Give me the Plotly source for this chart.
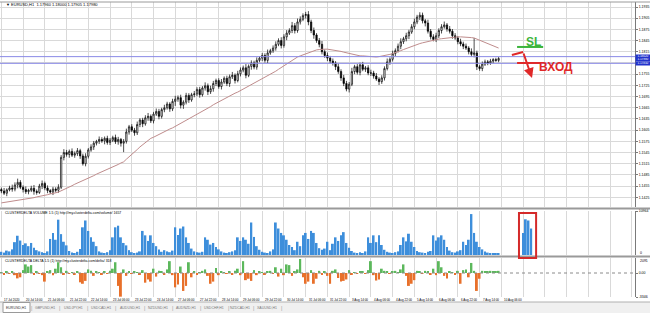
import plotly.graph_objects as go
from plotly.subplots import make_subplots

# ---------------- data (EURUSD H1 chart, read as 2-hour steps) ----------------
# prices in pips above 1.1000
close_pips = [442, 436, 445, 450, 447, 458, 465, 452, 446, 440, 444, 449, 441, 438, 455, 462, 450, 443, 439, 447, 444, 452,
              532, 545, 540, 548, 538, 542, 550, 536, 515,
              535, 552, 560, 570, 575, 580,
              576, 583, 572, 578, 585, 574, 580, 570, 575,
              600, 614, 605, 598, 620,
              632, 622, 638, 642, 630,
              648, 655, 642, 660, 665,
              675, 662, 682, 688,
              692, 672, 680, 698, 686, 700,
              702, 714, 700, 718, 724, 708, 716, 730,
              738, 722, 734, 744, 730, 748, 752, 738, 756,
              766, 772, 752, 776, 785, 774, 792,
              798, 805, 792, 812, 818, 825,
              835, 845, 832, 855, 865, 872,
              885, 872, 895, 902, 912, 915,
              895, 872, 860, 845, 835,
              815, 805, 798, 790, 785, 775,
              762, 745, 730, 715, 728,
              762, 775, 760, 780, 768, 772, 758,
              758, 750, 742, 735, 745,
              770, 788, 795, 810, 818,
              830, 842, 850, 858, 868,
              882, 895, 908, 913, 898, 892,
              870, 855, 848, 858,
              872, 882, 887, 876, 870,
              858, 852, 842, 836, 830,
              825, 815, 808, 812,
              775, 770,
              782, 788, 785, 790, 794, 792, 797]
first_open_pips = 446
wick_up = [5, 8, 4, 6, 9, 7, 10, 6, 5, 8, 4, 7, 9, 5, 6, 8, 5, 7, 4, 6,
           5, 8, 6, 9, 7, 5, 8, 6, 7, 5, 6, 8, 5, 7, 6, 4, 8, 6, 5, 7,
           6, 5, 8, 7, 4, 6, 9, 5, 7, 6, 8, 5, 6, 7, 9, 5, 6, 8, 7, 5,
           8, 6, 5, 7, 9, 6, 8, 5, 7, 6, 5, 8, 6, 7, 5, 9, 6, 8, 7, 5,
           6, 8, 5, 7, 6, 9, 5, 8, 7, 6, 10, 5, 7, 6, 8, 5, 7, 6, 9, 5,
           7, 8, 6, 9, 7, 8, 6, 10, 7, 9, 8, 6, 7, 9, 6, 8, 5, 7, 9, 6,
           8, 6, 7, 5, 9, 6, 8, 7, 6, 10, 5, 7, 6, 8, 5, 7, 9, 6, 8, 5,
           7, 6, 9, 5, 8, 6, 7, 9, 5, 8, 6, 7, 9, 6, 8, 7, 5, 9, 6, 7,
           8, 6, 7, 9, 5, 8, 6, 7, 5, 8, 6, 7, 5, 9, 40, 6, 5, 7, 6, 5,
           6, 4, 5, 4]
wick_down = [6, 5, 8, 4, 7, 6, 9, 5, 8, 6, 7, 5, 9, 6, 4, 8, 6, 7, 5, 8,
             6, 7, 5, 8, 6, 9, 5, 7, 6, 8, 5, 7, 6, 5, 8, 6, 7, 5, 9, 6,
             7, 5, 6, 8, 9, 24, 6, 7, 5, 8, 6, 7, 9, 5, 8, 6, 7, 5, 8, 6,
             7, 5, 8, 6, 12, 7, 9, 10, 6, 8, 5, 7, 6, 8, 5, 7, 9, 6, 8, 7,
             6, 8, 5, 7, 9, 6, 8, 5, 7, 6, 8, 5, 9, 6, 7, 5, 8, 6, 7, 5,
             6, 7, 5, 8, 6, 9, 5, 7, 8, 6, 7, 5, 8, 9, 7, 10, 6, 8, 7, 6,
             8, 6, 7, 9, 6, 8, 7, 6, 9, 5, 7, 6, 8, 5, 7, 6, 8, 7, 5, 9,
             6, 7, 5, 8, 6, 7, 5, 8, 6, 7, 9, 5, 7, 6, 8, 7, 9, 6, 7, 5,
             7, 6, 8, 5, 7, 6, 8, 5, 7, 6, 8, 5, 7, 6, 8, 9, 6, 7, 5, 6,
             5, 6, 4, 5]
ma_pips = [410, 411, 412, 413, 414, 415, 416, 417, 418, 420, 421, 423,
           424, 426, 427, 429, 430, 432, 434, 435, 437, 439,
           442, 446, 449, 453, 456, 460, 463,
           466, 470, 473, 476, 480, 483, 487, 490,
           493, 497, 500, 503, 507, 510, 513, 517, 520,
           527, 533, 540, 546, 553, 560, 566, 573, 579,
           583, 586, 590, 594, 597, 601, 604, 608, 611,
           615, 619, 623, 627, 631, 635, 638, 642, 646,
           650, 655, 659, 664, 668, 673, 677, 682, 686,
           690, 693, 697, 700, 704, 707, 711, 714, 718,
           722, 726, 730, 734, 738, 741, 745, 749, 753,
           758, 763, 768, 773, 778, 783, 788, 793, 798,
           801, 804, 807, 810, 813, 815, 818, 820,
           821, 822, 822, 822, 821, 821, 820,
           818, 816, 814, 812, 810, 808, 806,
           805, 804, 804, 803, 803, 802, 802, 801,
           802, 803, 805, 806, 808, 810, 812,
           815, 818, 821, 824, 827, 830, 833,
           835, 837, 839, 841, 843, 845, 847,
           848, 849, 850, 851, 852, 853, 854, 855,
           855, 855, 855, 854, 854, 853, 852,
           849, 846, 843, 840, 837, 834, 831, 828, 825]
volume = [800, 600, 1100, 900, 1400,
          3200, 4800, 3600, 2500, 2900,
          2200, 3000, 1800, 1200, 900,
          700, 500, 900,
          4000, 5500, 3800, 8800, 5200,
          3300, 2400, 1000,
          600, 500, 800, 1500,
          6900, 8600, 6000, 4400, 3300, 2200,
          900, 600, 500, 700, 1200,
          4400, 6900, 7300, 4400, 3000, 2400, 1200,
          700, 500, 600, 900,
          6000, 4900, 3500, 4900, 3000, 2200, 1400,
          800, 1200, 900, 700, 1100,
          6900, 5000, 6600, 7100, 4400, 3000, 1600,
          900, 700, 600, 800,
          4400, 3800, 2600, 3000, 2000, 1400, 900,
          600, 500, 700, 900, 1200,
          4400, 3500, 4400, 3800, 2800, 8100, 4500, 2200, 1300,
          800, 600, 500, 900, 1400,
          8100, 6600, 5500, 4900, 3800, 2500, 2000, 1200,
          3300, 2200, 4900, 5500, 4000, 6000, 5500, 3000, 1700, 1300,
          1600, 3300, 1200,
          2800, 4400, 3500, 4900, 5700, 3000, 1800, 1000,
          600, 500, 700, 500, 900,
          4400, 3000, 4900, 3200, 4900, 2500, 1300,
          800, 600, 500, 700, 900,
          2500, 4400, 3400, 5300, 3300, 2000, 1000,
          700, 600, 500, 800, 1000,
          4900, 3600, 4400, 4900, 3800, 2000, 1100,
          700, 600, 900, 1200,
          3300, 2500, 3800, 10200, 5500, 3300, 2000, 1400, 900,
          600, 500, 400, 500, 400]
delta = [100, -150, 200, -100, 150,
         -300, -750, -600, 400, 1200,
         900, 1100, -200, 150, -100,
         -300, -1200, 200,
         400, -300, 600, 1500, 800,
         -200, 300, -100,
         100, -150, 200, -1300,
         -1500, -1100, 500, 300, -400, 200,
         100, -200, 150, -100, 300,
         600, 1500, -1800, -3300, 500, -400, 200,
         -100, 150, 100, -200,
         400, -1350, -900, -1200, 600, -500, 300,
         150, -200, 500, 1650, -300,
         -2000, -1600, 900, -2500, -1800, 1500, -600,
         200, -150, 100, 300,
         500, -400, -1500, -1200, 700, -300, 200,
         100, -100, 200, -150, 300,
         600, -300, 1650, -1000, -800, -1100, 400, -300, 200,
         100, -150, 200, 300, -100,
         800, -500, 600, -300, 1200, 1100, -400, 200,
         500, 1950, -600, -1500, -1200, 400, -1500, -800, 300, -200,
         200, -400, -1500,
         300, 500, -700, -1200, -1100, -900, 400, -200,
         100, -100, 200, 150, -100,
         400, 1650, -300, -1050, -900, 600, 300,
         200, -100, 150, 300, 100,
         500, 1200, -400, -1800, -1500, -1000, 300,
         200, -100, 300, 150, -200,
         600, -300, 1650, 800, -400, -750, 200,
         100, -150, 300, -1500,
         400, 500, -600, 1400, 300, -2500, -800, 300, 200,
         150, 300, 200, 250, 300]
pending_idx = [192, 193, 194, 195]
pending_volume = [5500, 8900, 8600, 6600]
time_labels = ["17 Jul 2020", "20 Jul 14:00", "21 Jul 06:00", "21 Jul 22:00", "22 Jul 14:00",
               "23 Jul 06:00", "23 Jul 22:00", "24 Jul 14:00", "27 Jul 06:00", "27 Jul 22:00",
               "28 Jul 14:00", "29 Jul 06:00", "29 Jul 22:00", "30 Jul 14:00", "31 Jul 06:00",
               "31 Jul 22:00", "3 Aug 14:00", "4 Aug 06:00", "4 Aug 22:00", "5 Aug 14:00",
               "6 Aug 06:00", "6 Aug 22:00", "7 Aug 14:00", "10 Aug 06:00"]
price_ticks = [1.1425, 1.1455, 1.1485, 1.1515, 1.1545, 1.1575, 1.1605, 1.1635, 1.1665,
               1.1695, 1.1725, 1.1755, 1.1785, 1.1815, 1.1845, 1.1875, 1.1905, 1.1935]
level_lines = [1.1802, 1.1784]
tabs = ["EURUSD,H1", "GBPUSD,H1", "USDJPY,H1", "USDCAD,H1", "AUDUSD,H1",
        "NZDUSD,H1", "AUDNZD,H1", "USDCHF,H1", "NZDCAD,H1", "XAUUSD,H1"]

# ---------------- build ----------------
n = min(len(close_pips), len(wick_up), len(wick_down), len(ma_pips), len(volume), len(delta))
idx = list(range(n))
close = [1.1 + c / 10000 for c in close_pips[:n]]
open_ = [1.1 + first_open_pips / 10000] + close[:-1]
high = [max(o, c) + u / 10000 for o, c, u in zip(open_, close, wick_up)]
low = [min(o, c) - d / 10000 for o, c, d in zip(open_, close, wick_down)]
ma = [1.1 + m / 10000 for m in ma_pips[:n]]

FONT = "Liberation Sans, Arial, sans-serif"
W, H = 650, 313
MT, MB, MR = 2, 16, 15
PH = H - MT - MB


def py(px):  # pixel row -> paper y
    return (H - MB - px) / PH


def pxx(px):  # pixel column -> paper x
    return px / (W - MR)


fig = make_subplots(rows=3, cols=1, shared_xaxes=True, vertical_spacing=0.0)
fig.add_trace(go.Candlestick(
    x=idx, open=open_, high=high, low=low, close=close,
    increasing=dict(line=dict(color="#000000", width=0.7), fillcolor="#ffffff"),
    decreasing=dict(line=dict(color="#000000", width=0.7), fillcolor="#000000"),
    whiskerwidth=0, showlegend=False, hoverinfo="skip"), row=1, col=1)
fig.add_trace(go.Scatter(x=idx, y=ma, mode="lines", line=dict(color="#bf8c8c", width=1),
                         showlegend=False, hoverinfo="skip"), row=1, col=1)
fig.add_trace(go.Bar(x=idx, y=volume[:n], marker=dict(color="#3d8edb", line=dict(width=0)),
                     showlegend=False, hoverinfo="skip"), row=2, col=1)
fig.add_trace(go.Bar(x=pending_idx, y=pending_volume, marker=dict(color="#3d8edb", line=dict(width=0)),
                     showlegend=False, hoverinfo="skip"), row=2, col=1)
fig.add_trace(go.Bar(x=idx, y=delta[:n],
                     marker=dict(color=["#5cb85c" if v >= 0 else "#e8702a" for v in delta[:n]],
                                 line=dict(width=0)),
                     showlegend=False, hoverinfo="skip"), row=3, col=1)

xr = [-0.5, 233.2]
gridvals = list(range(0, 233, 8))
for ax in ["xaxis", "xaxis2", "xaxis3"]:
    fig.layout[ax].update(range=xr, tickvals=gridvals, showticklabels=False, showgrid=True,
                          gridcolor="#d9d9d9", gridwidth=1, zeroline=False, ticks="",
                          showline=False, automargin=False, rangeslider=dict(visible=False))

common_y = dict(side="right", automargin=False, zeroline=False, showline=True, linecolor="#7a7a7a",
                linewidth=1, ticks="outside", ticklen=2, tickcolor="#7a7a7a",
                tickfont=dict(family=FONT, size=3.5, color="#000000"))
# the 1.1785 label sits under the price boxes in the reference
price_text = ["" if abs(v - 1.1785) < 1e-6 else f"{v:.4f}" for v in price_ticks]
fig.layout.yaxis.update(domain=[py(207), 1.0], range=[1.1399, 1.19484], tickvals=price_ticks,
                        ticktext=price_text, showgrid=True,
                        gridcolor="#d9d9d9", gridwidth=1, **common_y)
fig.layout.yaxis2.update(domain=[py(255), py(211)], range=[0, 10964], tickvals=[10964],
                         ticktext=["10964"], showgrid=False, **common_y)
fig.layout.yaxis3.update(domain=[0, py(258)], range=[-3346, 2091], tickvals=[-3346, 0],
                         ticktext=["-3346", "0.00"], showgrid=False, **common_y)

shapes = []
# panel separators
for yy in (208.5, 256.5):
    shapes.append(dict(type="line", xref="paper", yref="paper", x0=0, x1=pxx(W), y0=py(yy), y1=py(yy),
                       line=dict(color="#9a9a9a", width=2)))
shapes.append(dict(type="line", xref="paper", yref="paper", x0=0, x1=pxx(W), y0=1, y1=1,
                   line=dict(color="#9a9a9a", width=1)))
# horizontal level lines
for lv in level_lines:
    shapes.append(dict(type="line", xref="paper", yref="y", x0=0, x1=1, y0=lv, y1=lv,
                       line=dict(color="#8a8ae6", width=1)))
# delta zero line
shapes.append(dict(type="line", xref="paper", yref="y3", x0=0, x1=1, y0=0, y1=0,
                   line=dict(color="#8a8a8a", width=1, dash="dot")))
# SL / entry marks
shapes.append(dict(type="line", xref="x", yref="y", x0=189.8, x1=199.4, y0=1.18279, y1=1.18279,
                   line=dict(color="#3cb43c", width=2)))
shapes.append(dict(type="line", xref="x", yref="y", x0=189.8, x1=198.3, y0=1.17850, y1=1.17850,
                   line=dict(color="#e02828", width=2)))
shapes.append(dict(type="line", xref="x", yref="y", x0=187.9, x1=192.0, y0=1.18064, y1=1.18145,
                   line=dict(color="#e02828", width=2)))
# red box in the volume panel
shapes.append(dict(type="rect", xref="x2", yref="paper", x0=190.5, x1=196.8, y0=py(258), y1=py(213),
                   line=dict(color="#d42a2a", width=2), fillcolor="rgba(0,0,0,0)"))
# tab bar
shapes.append(dict(type="rect", xref="paper", yref="paper", x0=0, x1=pxx(W), y0=py(H), y1=py(302),
                   fillcolor="#f0f0f0", line=dict(width=0), layer="below"))
shapes.append(dict(type="line", xref="paper", yref="paper", x0=0, x1=pxx(W), y0=py(302), y1=py(302),
                   line=dict(color="#b0b0b0", width=1)))
shapes.append(dict(type="rect", xref="paper", yref="paper", x0=pxx(3), x1=pxx(30), y0=py(312.5), y1=py(302.5),
                   fillcolor="#ffffff", line=dict(color="#9a9a9a", width=1)))

annotations = []
sm = dict(family=FONT, size=3.5, color="#000000")
annotations.append(dict(xref="paper", yref="paper", x=pxx(4), y=py(5), xanchor="left", yanchor="middle",
                        text="▼ EURUSD,H1  1.17960 1.18000 1.17905 1.17980", showarrow=False,
                        font=dict(family=FONT, size=4, color="#000000")))
annotations.append(dict(xref="paper", yref="paper", x=pxx(3), y=py(213), xanchor="left", yanchor="middle",
                        text="CLUSTERDELTA VOLUME 1.5 (1) http://my.clusterdelta.com/volume/ 1657",
                        showarrow=False, font=sm))
annotations.append(dict(xref="paper", yref="paper", x=pxx(3), y=py(261), xanchor="left", yanchor="middle",
                        text="CLUSTERDELTA DELTA 1.5 (1) http://my.clusterdelta.com/delta/ 318",
                        showarrow=False, font=sm))
# right-axis labels at the panel joint, kept apart
annotations.append(dict(xref="paper", yref="paper", x=1.0, y=py(252.5), xanchor="left", yanchor="middle",
                        xshift=3, text="0", showarrow=False, font=sm))
annotations.append(dict(xref="paper", yref="paper", x=1.0, y=py(260.5), xanchor="left", yanchor="middle",
                        xshift=3, text="2091", showarrow=False, font=sm))
for k, lab in enumerate(time_labels):
    annotations.append(dict(xref="x3", yref="paper", x=8 * k, y=py(300), xanchor="left", yanchor="middle",
                            xshift=1, text=lab, showarrow=False, font=dict(family=FONT, size=3, color="#000000")))
tab_centers = [16, 45, 73, 101, 130, 158, 186, 214, 240, 267]
for tc, t in zip(tab_centers, tabs):
    annotations.append(dict(xref="paper", yref="paper", x=pxx(tc), y=py(307.5), xanchor="center",
                            yanchor="middle", text=t, showarrow=False,
                            font=dict(family=FONT, size=3.5, color="#333333" if t == tabs[0] else "#777777")))
for tc in [31, 59, 87, 115, 144, 172, 200, 228, 253, 281]:
    annotations.append(dict(xref="paper", yref="paper", x=pxx(tc), y=py(307.5), xanchor="center",
                            yanchor="middle", text="|", showarrow=False,
                            font=dict(family=FONT, size=5, color="#9a9a9a")))
# price boxes on the axis
for yv, txt in [(1.18034, "1.18020"), (1.17940, "1.17980"), (1.17846, "1.17850")]:
    annotations.append(dict(xref="paper", yref="y", x=1.0, y=yv, xanchor="left", yanchor="middle",
                            text=txt, showarrow=False, bgcolor="#2233cc", width=14, height=2.6,
                            borderpad=0, font=dict(family=FONT, size=3, color="#ffffff")))
# SL and entry texts, arrow
annotations.append(dict(xref="x", yref="y", x=195.7, y=1.18413, text="<b>SL</b>", showarrow=False,
                        font=dict(family=FONT, size=12, color="#3cb43c")))
annotations.append(dict(xref="x", yref="y", x=204.3, y=1.17743, text="<b>ВХОД</b>", showarrow=False,
                        font=dict(family=FONT, size=12, color="#e02828")))
annotations.append(dict(xref="x", yref="y", x=195.3, y=1.17448, axref="x", ayref="y", ax=192.0, ay=1.18145,
                        text="", showarrow=True, arrowhead=2, arrowsize=1, arrowwidth=2,
                        arrowcolor="#e02828"))

fig.update_layout(
    template="none", width=W, height=H,
    margin=dict(l=0, r=MR, t=MT, b=MB),
    paper_bgcolor="#ffffff", plot_bgcolor="#ffffff",
    showlegend=False, bargap=0.3, barmode="overlay",
    shapes=shapes, annotations=annotations,
    font=dict(family=FONT, size=4),
)
fig.write_html("out.html")
